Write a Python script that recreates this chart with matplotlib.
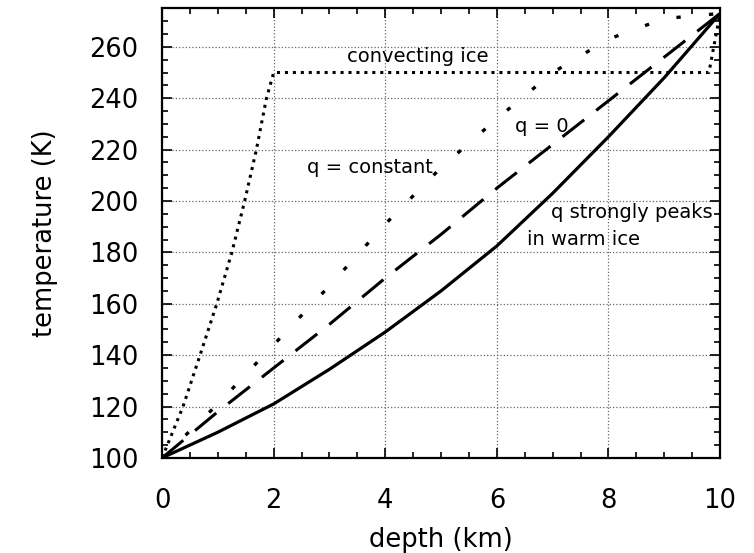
import matplotlib.pyplot as plt
import numpy as np
from matplotlib.ticker import MultipleLocator

plt.rcParams['font.family'] = ['DejaVu Sans']

# depth (km) and temperature (K)
depth = [0, 1, 2, 3, 4, 5, 6, 7, 8, 9, 10]
t_peak = [100, 110, 121, 134.5, 149, 165, 182.5, 203, 225, 248, 273]   # q strongly peaks in warm ice
t_q0 = [100, 118, 135, 152, 170, 187, 205, 222, 239, 256, 273]     # q = 0
t_qconst = [100, 121, 144, 167, 191, 213, 232, 250, 263, 271, 273]  # q = constant
conv_depth = [0, 0.375, 0.68, 0.98, 1.25, 1.48, 1.69, 1.87, 2.0, 9.8, 10]
conv_temp = [100, 120, 140, 160, 180, 200, 220, 240, 250, 250, 273]  # convecting ice

fig = plt.figure(figsize=(7.54, 5.53), dpi=100)
ax = fig.add_axes([0.215, 0.172, 0.74, 0.813])

ax.plot(depth, t_peak, color='black', lw=2.3)
ax.plot(depth, t_q0, color='black', lw=2.2, dashes=(9, 5))
ax.plot(depth, t_qconst, color='black', lw=2.4, dashes=(1.3, 8.5))
ax.plot(conv_depth, conv_temp, color='black', lw=2.2, dashes=(1, 1.6))

ax.set_xlim(0, 10)
ax.set_ylim(100, 275)
ax.xaxis.set_major_locator(MultipleLocator(2))
ax.xaxis.set_minor_locator(MultipleLocator(0.5))
ax.yaxis.set_major_locator(MultipleLocator(20))
ax.yaxis.set_minor_locator(MultipleLocator(5))
ax.tick_params(which='both', direction='in', top=True, right=True, width=1.2)
ax.tick_params(which='major', length=7, labelsize=18.5)
ax.tick_params(which='minor', length=4)
ax.tick_params(axis='x', which='major', pad=22)
ax.tick_params(axis='y', which='major', pad=17)
ax.grid(True, which='major', ls=':', color='#666666', lw=0.9)
for s in ax.spines.values():
    s.set_linewidth(1.6)

ax.set_xlabel('depth (km)', fontsize=18.5, labelpad=9)
ax.set_ylabel('temperature (K)', fontsize=18.5, labelpad=22)

ax.text(4.59, 252.5, 'convecting ice', fontsize=14, ha='center', va='bottom')
ax.text(2.6, 213, 'q = constant', fontsize=14, ha='left', va='center')
ax.text(6.33, 229, 'q = 0', fontsize=14, ha='left', va='center')
ax.text(9.86, 195.5, 'q strongly peaks', fontsize=14, ha='right', va='center')
ax.text(6.54, 185, 'in warm ice', fontsize=14, ha='left', va='center')

fig.savefig('out.png', dpi=100)
